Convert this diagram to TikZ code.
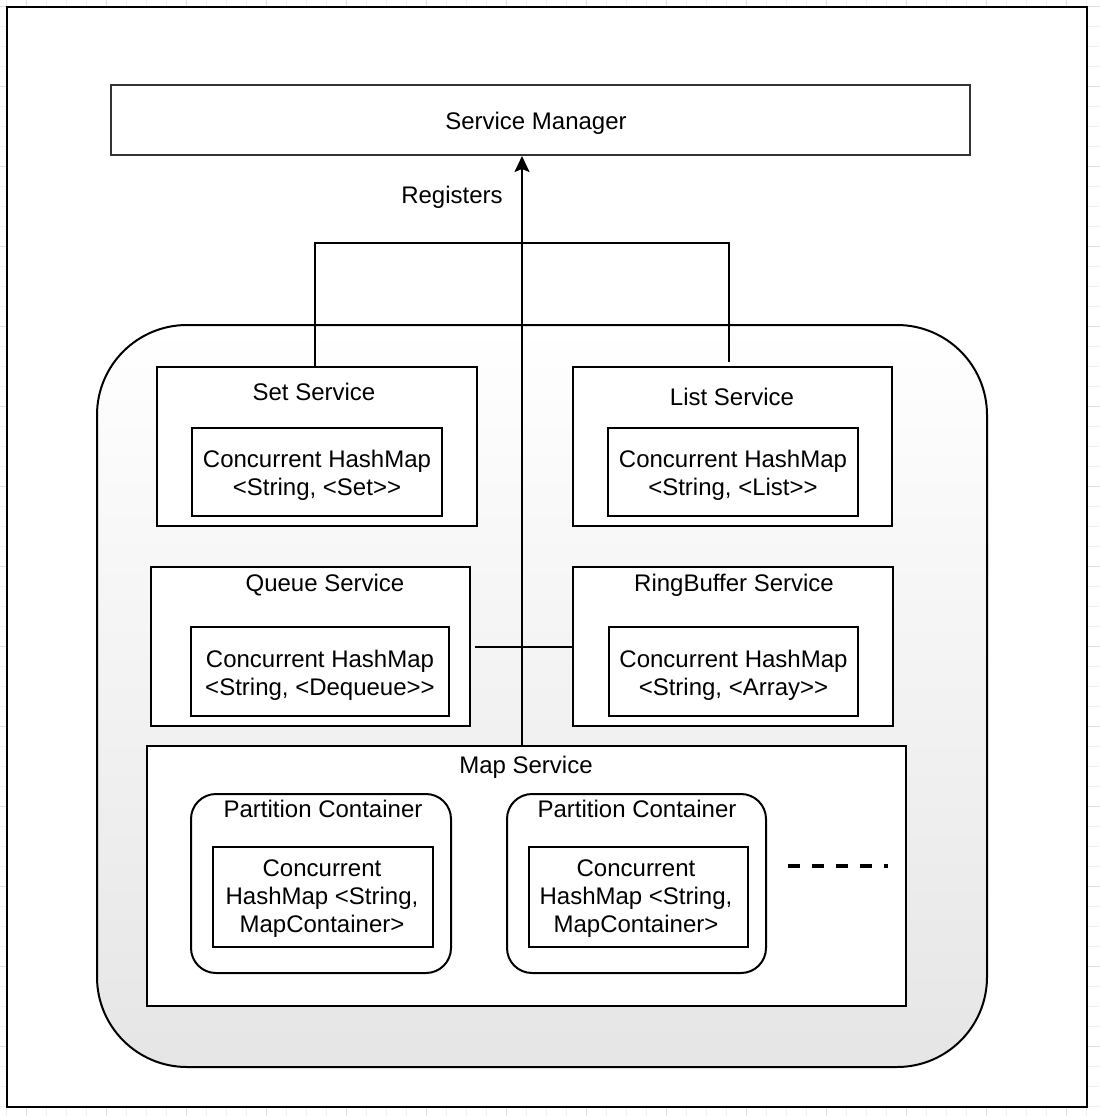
\documentclass[tikz,border=0pt]{standalone}
\usepackage{fontspec}
\setmainfont{Liberation Sans}
\usetikzlibrary{arrows.meta,calc}
\newcommand\gtgt{\textgreater\kern0pt\textgreater}
\tikzset{
  box/.style={draw=black, line width=2pt, fill=white, inner sep=0pt, outer sep=0pt},
  inbox/.style={box},
  pcbox/.style={box, rounded corners=25pt},
  title/.style={inner sep=0pt, align=center, font=\fontsize{24}{28}\selectfont},
  conn/.style={line width=2pt, draw=black},
}
\begin{document}
\begin{tikzpicture}[x=1pt,y=-1pt]
\useasboundingbox (0,0) rectangle (1100,1116);
% background grid
\foreach \k in {0,...,55} {
  \pgfmathsetmacro{\p}{6.7+20*\k}
  \draw[gray!12, line width=1pt] (\p,0) -- (\p,1116);
  \draw[gray!12, line width=1pt] (0,\p) -- (1100,\p);
}
\foreach \k in {0,...,14} {
  \pgfmathsetmacro{\p}{26.7+80*\k}
  \pgfmathsetmacro{\q}{6.7+80*\k}
  \draw[gray!25, line width=1pt] (\p,0) -- (\p,1116);
  \draw[gray!25, line width=1pt] (0,\q) -- (1100,\q);
}
\node[draw=black, line width=2.5pt, fill=white, minimum width=1080pt, minimum height=1100pt, inner sep=0pt] (frame) at (547,557) {};
% service manager
\node[draw=black!80, line width=2pt, fill=white, minimum width=859pt, minimum height=70pt, inner sep=0pt] (sm) at (540.5,120) {};
\node[title] (smt) at (536,123) {Service Manager};
% big rounded container
\node[draw=black, line width=2pt, rounded corners=90pt, top color=white, bottom color=black!10, minimum width=890pt, minimum height=742pt, inner sep=0pt] (cont) at (542,696) {};
% services
\node[box, minimum width=320pt, minimum height=159pt] (set) at (317,446.5) {};
\node[title] (sett) at (314,392) {Set Service};
\node[inbox, minimum width=250pt, minimum height=88pt] (seti) at (317,472) {};
\node[title] (setx) at (317,475) {Concurrent HashMap\\\textless String, \textless Set\gtgt};
\node[box, minimum width=319pt, minimum height=159pt] (list) at (732.5,446.5) {};
\node[title] (listt) at (732,397) {List Service};
\node[inbox, minimum width=250pt, minimum height=88pt] (listi) at (733,472) {};
\node[title] (listx) at (733,475) {Concurrent HashMap\\\textless String, \textless List\gtgt};
\node[box, minimum width=319pt, minimum height=159pt] (queue) at (310.5,646.5) {};
\node[title] (queuet) at (325,585) {Queue Service};
\node[inbox, minimum width=258pt, minimum height=89pt] (queuei) at (320,671.5) {};
\node[title] (queuex) at (320,675) {Concurrent HashMap\\\textless String, \textless Dequeue\gtgt};
\node[box, minimum width=320pt, minimum height=159pt] (ring) at (733,646.5) {};
\node[title] (ringt) at (734,585) {RingBuffer Service};
\node[inbox, minimum width=249pt, minimum height=89pt] (ringi) at (733.5,671.5) {};
\node[title] (ringx) at (733.5,675) {Concurrent HashMap\\\textless String, \textless Array\gtgt};
% map service
\node[box, minimum width=759pt, minimum height=260pt] (map) at (526.5,876) {};
\node[title] (mapt) at (526,767) {Map Service};
\node[pcbox, minimum width=260pt, minimum height=179pt] (pc1) at (321,883.5) {};
\node[title] (pc1t) at (323,809) {Partition Container};
\node[inbox, minimum width=220pt, minimum height=100pt] (pc1i) at (323,897) {};
\node[title] (pc1x) at (322,899) {Concurrent\\HashMap \textless String,\\MapContainer\textgreater};
\node[pcbox, minimum width=259pt, minimum height=179pt] (pc2) at (636.5,883.5) {};
\node[title] (pc2t) at (637,809) {Partition Container};
\node[inbox, minimum width=219pt, minimum height=100pt] (pc2i) at (638.5,897) {};
\node[title] (pc2x) at (636,899) {Concurrent\\HashMap \textless String,\\MapContainer\textgreater};
% connectors
\coordinate (ax) at (522,0);
\coordinate (bl) at (315,243);
\coordinate (br) at (729,243);
\coordinate (lend) at (729,362);
\coordinate (qstart) at (475,647);
\coordinate (d1) at (788,866);
\coordinate (d2) at (888,866);
\draw[conn] (set.north -| bl) -- (bl) -- (br) -- (lend);
\draw[conn] (qstart) -- (qstart -| ring.west);
\draw[conn, -{Stealth[length=16pt,width=15pt,inset=3pt]}] (map.north -| ax) -- (sm.south -| ax);
\node[title] (reg) at (452,197) {Registers};
\draw[line width=3.5pt, dash pattern=on 12pt off 12pt] (d1) -- (d2);
\end{tikzpicture}
\end{document}
